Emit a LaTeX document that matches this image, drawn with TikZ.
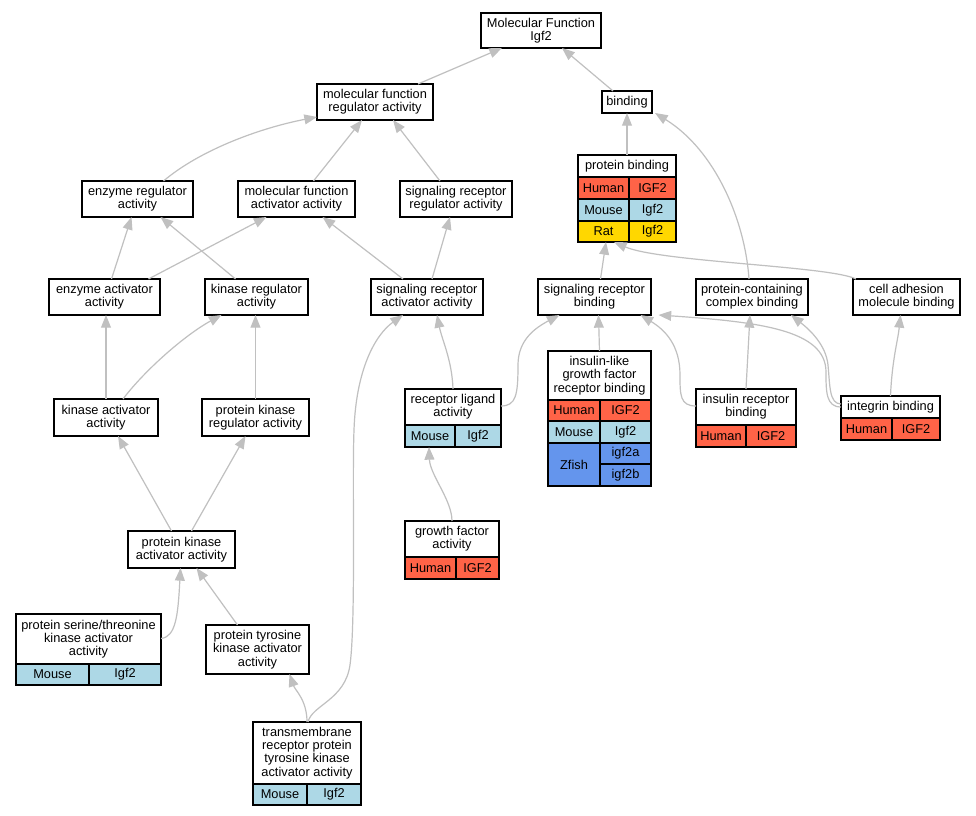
\documentclass[tikz,border=0pt]{standalone}
\usepackage{fontspec}
\setmainfont{Liberation Sans}
\usetikzlibrary{arrows.meta,calc}
\definecolor{edgegray}{HTML}{C0C0C0}
\definecolor{human}{HTML}{FF6347}
\definecolor{mouse}{HTML}{ADD8E6}
\definecolor{rat}{HTML}{FFD700}
\definecolor{zfish}{HTML}{6495ED}
\tikzset{
  gbox/.style={draw=black, line width=0.9pt, inner sep=0pt, outer sep=0pt, align=center,
    font=\fontsize{9.6}{9.9}\selectfont},
  edge/.style={draw=edgegray, line width=0.9pt, -{Triangle[length=9.5pt,width=7.4pt,fill=edgegray]}},
}
\newcommand\bx[7]{\node[gbox, fill=#6, minimum width={(#4-#2)*0.75pt}, minimum height={(#5-#3)*0.75pt}] (#1) at ({(#2+#4)/2},{(#3+#5)/2}) {#7};}
\begin{document}
\begin{tikzpicture}[x=0.75pt,y=-0.75pt]
\fill[white] (0,0) rectangle (976,816);
\useasboundingbox (0,0) rectangle (976,816);
% plain nodes
\bx{MF}{481}{13}{601}{48}{white}{Molecular Function\\Igf2}
\bx{mfra}{317}{84}{433}{120}{white}{molecular function\\regulator activity}
\bx{binding}{602}{91}{652}{113}{white}{binding}
\bx{enzreg}{82}{181}{193}{217}{white}{enzyme regulator\\activity}
\bx{mfact}{238}{181}{355}{217}{white}{molecular function\\activator activity}
\bx{srreg}{400}{181}{512}{217}{white}{signaling receptor\\regulator activity}
\bx{enzact}{49}{279}{160}{315}{white}{enzyme activator\\activity}
\bx{kinreg}{205}{279}{308}{315}{white}{kinase regulator\\activity}
\bx{sract}{371}{279}{483}{315}{white}{signaling receptor\\activator activity}
\bx{srb}{538}{279}{651}{315}{white}{signaling receptor\\binding}
\bx{pcb}{696}{279}{808}{315}{white}{protein-containing\\complex binding}
\bx{cam}{853}{279}{960}{315}{white}{cell adhesion\\molecule binding}
\bx{kinact}{54}{399}{158}{436}{white}{kinase activator\\activity}
\bx{pkreg}{202}{399}{309}{436}{white}{protein kinase\\regulator activity}
\bx{pka}{128}{531}{235}{568}{white}{protein kinase\\activator activity}
\bx{ptka}{206}{625}{309}{674}{white}{protein tyrosine\\kinase activator\\activity}
% protein binding table
\bx{pbt}{578}{155}{676}{177}{white}{protein binding}
\bx{pbh1}{578}{177}{629}{199}{human}{Human}
\bx{pbh2}{629}{177}{676}{199}{human}{IGF2}
\bx{pbm1}{578}{199}{629}{221}{mouse}{Mouse}
\bx{pbm2}{629}{199}{676}{221}{mouse}{Igf2}
\bx{pbr1}{578}{221}{629}{242}{rat}{Rat}
\bx{pbr2}{629}{221}{676}{242}{rat}{Igf2}
\bx{pb}{578}{155}{676}{242}{none}{}
% receptor ligand activity
\bx{reclt}{405}{389}{501}{425}{white}{receptor ligand\\activity}
\bx{reclm1}{405}{425}{455}{447}{mouse}{Mouse}
\bx{reclm2}{455}{425}{501}{447}{mouse}{Igf2}
\bx{reclig}{405}{389}{501}{447}{none}{}
% insulin-like growth factor receptor binding
\bx{ilgt}{548}{351}{651}{400}{white}{insulin-like\\growth factor\\receptor binding}
\bx{ilgh1}{548}{400}{600}{421}{human}{Human}
\bx{ilgh2}{600}{400}{651}{421}{human}{IGF2}
\bx{ilgm1}{548}{421}{600}{443}{mouse}{Mouse}
\bx{ilgm2}{600}{421}{651}{443}{mouse}{Igf2}
\bx{ilgz1}{548}{443}{600}{486}{zfish}{Zfish}
\bx{ilgz2}{600}{443}{651}{464}{zfish}{igf2a}
\bx{ilgz3}{600}{464}{651}{486}{zfish}{igf2b}
\bx{ilgfrb}{548}{351}{651}{486}{none}{}
% insulin receptor binding
\bx{irbt}{696}{389}{796}{425}{white}{insulin receptor\\binding}
\bx{irbh1}{696}{425}{746}{447}{human}{Human}
\bx{irbh2}{746}{425}{796}{447}{human}{IGF2}
\bx{irb}{696}{389}{796}{447}{none}{}
% integrin binding
\bx{intt}{841}{396}{940}{418}{white}{integrin binding}
\bx{inth1}{841}{418}{892}{440}{human}{Human}
\bx{inth2}{892}{418}{940}{440}{human}{IGF2}
\bx{integrin}{841}{396}{940}{440}{none}{}
% growth factor activity
\bx{gfat}{405}{521}{499}{557}{white}{growth factor\\activity}
\bx{gfah1}{405}{557}{456}{579}{human}{Human}
\bx{gfah2}{456}{557}{499}{579}{human}{IGF2}
\bx{gfa}{405}{521}{499}{579}{none}{}
% protein serine/threonine kinase activator activity
\bx{pstt}{16}{614}{161}{664}{white}{protein serine/threonine\\kinase activator\\activity}
\bx{pstm1}{16}{664}{89}{685}{mouse}{Mouse}
\bx{pstm2}{89}{664}{161}{685}{mouse}{Igf2}
\bx{pstka}{16}{614}{161}{685}{none}{}
% transmembrane receptor protein tyrosine kinase activator activity
\bx{tmt}{253}{722}{361}{784}{white}{transmembrane\\receptor protein\\tyrosine kinase\\activator activity}
\bx{tmm1}{253}{784}{307}{805}{mouse}{Mouse}
\bx{tmm2}{307}{784}{361}{805}{mouse}{Igf2}
\bx{tm}{253}{722}{361}{805}{none}{}
% edges
\draw[edge] ($(mfra.north)+(43,0)$) -- ($(MF.south)+(-39,0)$);
\draw[edge] ($(binding.north)+(-14,0)$) -- ($(MF.south)+(21,0)$);
\draw[edge] ($(enzreg.north)+(26,0)$) .. controls (200,150) and (260,128) .. ($(mfra.south west)+(0,-3)$);
\draw[edge] ($(mfact.north)+(17,0)$) -- ($(mfra.south)+(-13,0)$);
\draw[edge] ($(srreg.north)+(-16,0)$) -- ($(mfra.south)+(18,0)$);
\draw[edge] (pb.north) -- (binding.south);
\draw[edge] ($(pcb.north)+(-3,0)$) .. controls (745,220) and (715,150) .. ($(binding.south east)+(3,0)$);
\draw[edge] ($(enzact.north)+(7,0)$) -- ($(enzreg.south)+(-6,0)$);
\draw[edge] ($(enzact.north)+(44,0)$) -- ($(mfact.south)+(-30,0)$);
\draw[edge] ($(kinreg.north)+(-21,0)$) -- ($(enzreg.south)+(23,0)$);
\draw[edge] ($(sract.north)+(-24,0)$) -- ($(mfact.south)+(26,0)$);
\draw[edge] ($(sract.north)+(5,0)$) -- ($(srreg.south)+(-6,0)$);
\draw[edge] ($(srb.north)+(6,0)$) -- ($(pb.south)+(-21,0)$);
\draw[edge] ($(cam.north west)+(3,0)$) .. controls (830,266) and (660,262) .. ($(pb.south)+(-13,0)$);
\draw[edge] (kinact.north) -- (kinact.north |- enzact.south);
\draw[edge] ($(kinact.north)+(17,0)$) .. controls (145,370) and (185,335) .. ($(kinreg.south)+(-35,0)$);
\draw[edge] (pkreg.north) -- (pkreg.north |- kinreg.south);
\draw[edge] (reclig.north) .. controls (452,360) and (442,340) .. ($(sract.south)+(10,0)$);
\draw[edge] (ilgfrb.north) -- ($(srb.south)+(4,0)$);
\draw[edge] ($(irb.west)+(0,-12)$) .. controls (680,406) and (680,395) .. (680,375) .. controls (680,345) and (665,330) .. ($(srb.south)+(46,0)$);
\draw[edge] (irb.north) -- ($(pcb.south)+(-2,0)$);
\draw[edge] ($(integrin.west)+(0,-11)$) .. controls (826,407) and (826,392) .. (826,372) .. controls (826,330) and (760,322) .. ($(srb.south)+(64,0)$);
\draw[edge] ($(integrin.west)+(0,-14)$) .. controls (829,404) and (830,385) .. (828,365) .. controls (826,345) and (810,330) .. ($(pcb.south east)+(-17,0)$);
\draw[edge] (integrin.north) .. controls (892,360) and (898,340) .. ($(cam.south)+(-6,0)$);
\draw[edge] ($(reclig.east)+(0,-12)$) .. controls (516,406) and (518,395) .. (518,365) .. controls (518,340) and (535,328) .. ($(srb.south)+(-35,0)$);
\draw[edge] ($(pka.north)+(-10,0)$) -- ($(kinact.south)+(12,0)$);
\draw[edge] ($(pka.north)+(10,0)$) -- ($(pkreg.south)+(-10,0)$);
\draw[edge] ($(pstka.east)+(0,-11)$) .. controls (176,637) and (178,615) .. ($(pka.south)+(-1,0)$);
\draw[edge] ($(ptka.north)+(-20,0)$) -- ($(pka.south)+(15,0)$);
\draw[edge] (tm.north) .. controls (307,700) and (295,690) .. ($(ptka.south)+(32,0)$);
\draw[edge] ($(tm.north)+(1,0)$) .. controls (312,705) and (345,700) .. (350,665) .. controls (356,620) and (352,480) .. (354,430) .. controls (356,370) and (375,335) .. ($(sract.south)+(-24,0)$);
\draw[edge] (gfa.north) .. controls (452,500) and (430,475) .. ($(reclig.south)+(-24,0)$);
\end{tikzpicture}
\end{document}
